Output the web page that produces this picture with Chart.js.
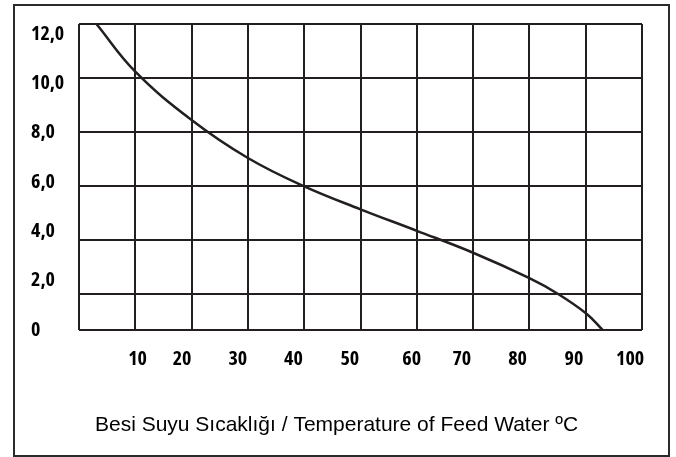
<!DOCTYPE html>
<html>
<head>
<meta charset="utf-8">
<script src="https://cdn.jsdelivr.net/npm/chart.js@4"></script>
<style>
  html, body { margin: 0; padding: 0; background: #fff; }
  #wrap { position: relative; width: 676px; height: 457px; overflow: hidden; }
  #chart { position: absolute; left: 0; top: 0; }
  #frame {
    position: absolute; left: 13px; top: 4px; width: 657px; height: 453px;
    box-sizing: border-box; border: 2px solid #2b2b2b; pointer-events: none;
  }
</style>
</head>
<body>
<div id="wrap">
  <canvas id="chart" width="676" height="457"></canvas>
  <div id="frame"></div>
</div>
<script>
// curve (x in grid columns 0-100, y in label units)
const curveX = [3.1, 10, 20, 30, 40, 50, 60, 70, 80, 85.1, 90.2, 93.0];
const curveY = [12.4, 10.47, 8.51, 6.97, 5.82, 4.89, 4.02, 3.13, 2.10, 1.46, 0.65, 0];

// x tick labels and where they sit
const xTickLabels = ['10', '20', '30', '40', '50', '60', '70', '80', '90', '100'];
const xTickPos = [10.4, 18.3, 28.2, 38.1, 48.1, 59.1, 68.0, 77.9, 87.9, 97.9];

// y tick labels
const yTickValues = [0, 2, 4, 6, 8, 10, 12];
const yTickLabels = ['0', '2,0', '4,0', '6,0', '8,0', '10,0', '12,0'];

// grid lines (not aligned to the labels in the original)
const xGridValues = [0, 10, 20, 30, 40, 50, 60, 70, 80, 90, 100];
const yGridValues = [0, 1.46, 3.65, 5.84, 8.02, 10.21, 12.4];

const X_MAX = 100;
const Y_MAX = 12.4;

const ink = '#231f20';
// Open Sans is a variable font here, so "condensed" gives a narrow face
const labelFont = {
  family: "'Open Sans', Roboto, sans-serif",
  size: 20,
  weight: 'bold condensed'
};

const points = curveX.map((x, i) => ({ x: x, y: curveY[i] }));

new Chart(document.getElementById('chart'), {
  type: 'line',
  data: {
    datasets: [{
      data: points,
      borderColor: ink,
      borderWidth: 2.5,
      pointRadius: 0,
      fill: false,
      tension: 0.4,
      xAxisID: 'x',
      yAxisID: 'y'
    }]
  },
  options: {
    responsive: false,
    animation: false,
    events: [],
    layout: { padding: { left: 31, top: 24, right: 34, bottom: 0 } },
    plugins: {
      legend: { display: false },
      tooltip: { enabled: false },
      title: {
        display: true,
        position: 'bottom',
        text: 'Besi Suyu Sıcaklığı / Temperature of Feed Water ºC',
        color: '#000',
        font: { family: "'Liberation Sans', Arial, sans-serif", size: 21, weight: 'normal' },
        padding: { top: 10, bottom: 19 }
      }
    },
    scales: {
      x: {
        type: 'linear',
        min: 0,
        max: X_MAX,
        afterBuildTicks: (s) => { s.ticks = xGridValues.map(v => ({ value: v })); },
        afterFit: (s) => { s.height = 0; },
        ticks: { display: false },
        grid: { color: ink, lineWidth: 2, drawTicks: false },
        border: { display: false }
      },
      xl: {
        type: 'linear',
        position: 'bottom',
        min: 0,
        max: X_MAX,
        afterBuildTicks: (s) => { s.ticks = xTickPos.map(v => ({ value: v })); },
        afterFit: (s) => { s.height = 127 - (25.2 + 10 + 19); },
        ticks: {
          autoSkip: false,
          maxRotation: 0,
          padding: 17,
          color: '#000',
          font: labelFont,
          callback: (v, i) => xTickLabels[i]
        },
        grid: { display: false, drawTicks: false },
        border: { display: false }
      },
      y: {
        type: 'linear',
        min: 0,
        max: Y_MAX,
        afterBuildTicks: (s) => { s.ticks = yGridValues.map(v => ({ value: v })); },
        afterFit: (s) => { s.width = 0; },
        ticks: { display: false },
        grid: { color: ink, lineWidth: 2, drawTicks: false },
        border: { display: false }
      },
      yl: {
        type: 'linear',
        position: 'left',
        min: 0,
        max: Y_MAX,
        afterBuildTicks: (s) => { s.ticks = yTickValues.map(v => ({ value: v })); },
        afterFit: (s) => { s.width = 48; },
        ticks: {
          autoSkip: false,
          crossAlign: 'far',
          color: '#000',
          font: labelFont,
          callback: (v, i) => yTickLabels[i]
        },
        grid: { display: false, drawTicks: false },
        border: { display: false }
      }
    }
  }
});
</script>
</body>
</html>
